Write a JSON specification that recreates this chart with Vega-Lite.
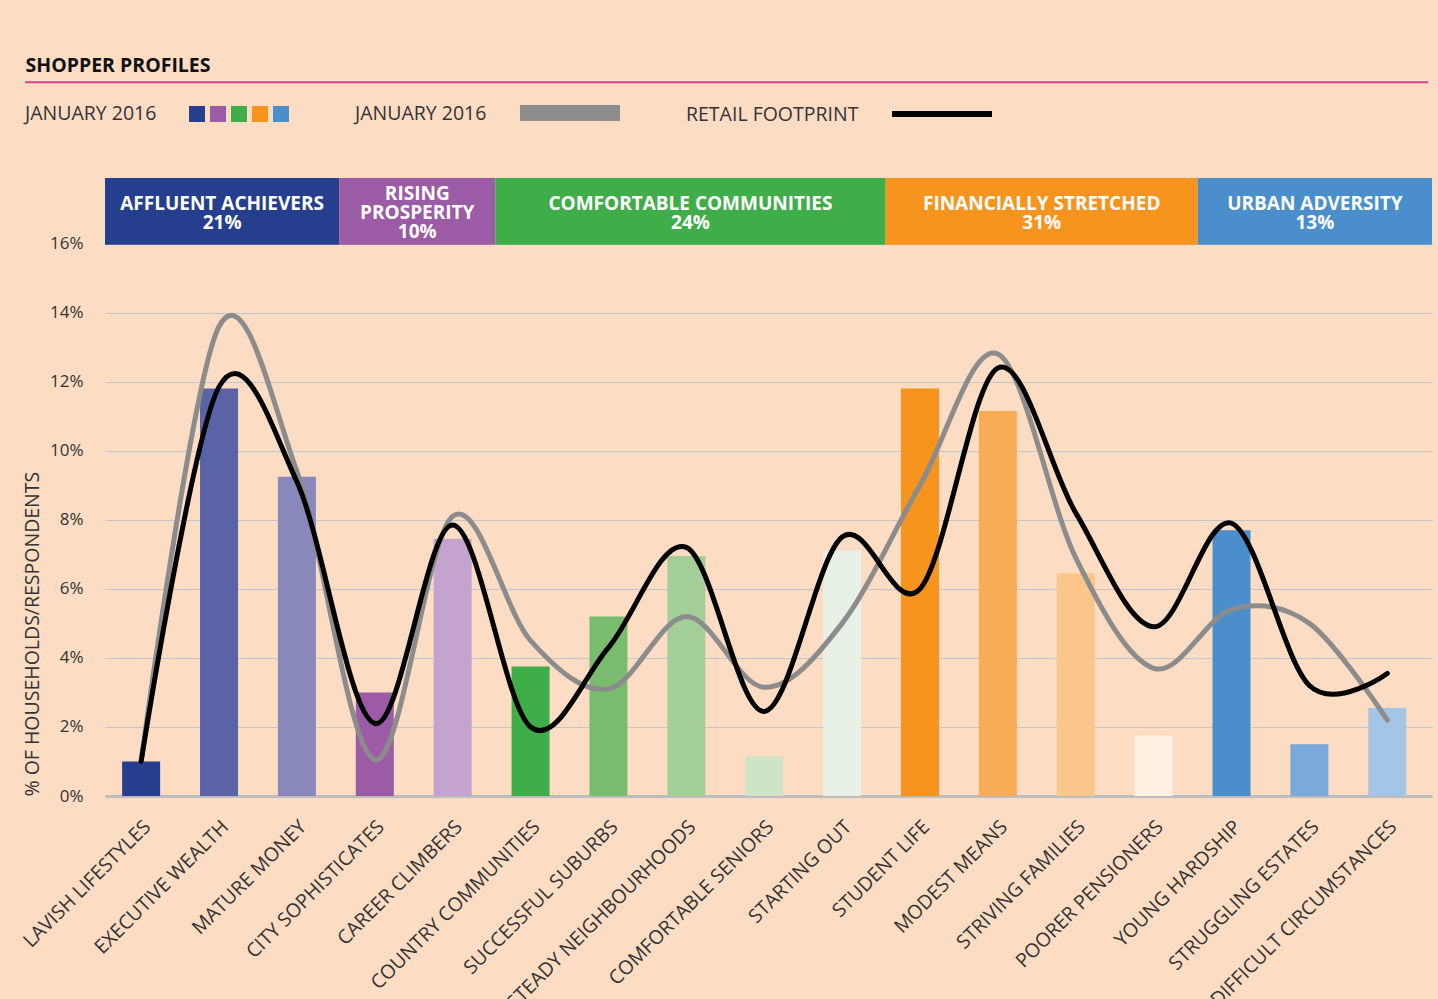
{
  "$schema": "https://vega.github.io/schema/vega-lite/v6.json",
  "width": 1327,
  "height": 618,
  "autosize": {"type": "none"},
  "padding": {"left": 105, "top": 178, "right": 6, "bottom": 203},
  "background": "#FDDCC4",
  "config": {
    "font": "Open Sans",
    "view": {"stroke": null},
    "axis": {"labelFont": "Open Sans", "labelColor": "#333333", "labelFontSize": 17, "titleFont": "Open Sans", "titleFontWeight": "normal", "titleColor": "#333333", "titleFontSize": 19.5, "ticks": false},
    "axisY": {"grid": true, "gridColor": "#C2C6CC", "gridWidth": 1, "domain": false, "labelPadding": 22, "titlePadding": 7, "titleAnchor": "start"},
    "legend": {"titleFont": "Open Sans", "titleFontWeight": "normal", "titleFontSize": 19.5, "titleColor": "#333333", "labelFontSize": 1}
  },
  "title": {"text": "SHOPPER PROFILES", "anchor": "start", "frame": "bounds", "fontSize": 19.5, "fontWeight": "bold", "color": "#111111", "font": "Open Sans", "offset": 5, "dx": 6},
  "datasets": {
    "profiles": [
      {"profile": "LAVISH LIFESTYLES", "share": 1.0, "jan2016": 1.0, "retail": 1.0},
      {"profile": "EXECUTIVE WEALTH", "share": 11.8, "jan2016": 13.6, "retail": 11.85},
      {"profile": "MATURE MONEY", "share": 9.25, "jan2016": 9.4, "retail": 9.1},
      {"profile": "CITY SOPHISTICATES", "share": 3.0, "jan2016": 1.05, "retail": 2.1},
      {"profile": "CAREER CLIMBERS", "share": 7.45, "jan2016": 8.1, "retail": 7.85},
      {"profile": "COUNTRY COMMUNITIES", "share": 3.75, "jan2016": 4.5, "retail": 2.0},
      {"profile": "SUCCESSFUL SUBURBS", "share": 5.2, "jan2016": 3.1, "retail": 4.3},
      {"profile": "STEADY NEIGHBOURHOODS", "share": 6.95, "jan2016": 5.2, "retail": 7.2},
      {"profile": "COMFORTABLE SENIORS", "share": 1.15, "jan2016": 3.15, "retail": 2.45},
      {"profile": "STARTING OUT", "share": 7.1, "jan2016": 5.0, "retail": 7.5},
      {"profile": "STUDENT LIFE", "share": 11.8, "jan2016": 9.0, "retail": 6.0},
      {"profile": "MODEST MEANS", "share": 11.15, "jan2016": 12.8, "retail": 12.4},
      {"profile": "STRIVING FAMILIES", "share": 6.45, "jan2016": 6.9, "retail": 8.2},
      {"profile": "POORER PENSIONERS", "share": 1.75, "jan2016": 3.7, "retail": 4.9},
      {"profile": "YOUNG HARDSHIP", "share": 7.7, "jan2016": 5.4, "retail": 7.9},
      {"profile": "STRUGGLING ESTATES", "share": 1.5, "jan2016": 5.0, "retail": 3.2},
      {"profile": "DIFFICULT CIRCUMSTANCES", "share": 2.55, "jan2016": 2.2, "retail": 3.55}
    ],
    "groups": [
      {"group": "AFFLUENT ACHIEVERS", "label": "AFFLUENT ACHIEVERS\n21%", "start": 0, "end": 3},
      {"group": "RISING PROSPERITY", "label": "RISING\nPROSPERITY\n10%", "start": 3, "end": 5},
      {"group": "COMFORTABLE COMMUNITIES", "label": "COMFORTABLE COMMUNITIES\n24%", "start": 5, "end": 10},
      {"group": "FINANCIALLY STRETCHED", "label": "FINANCIALLY STRETCHED\n31%", "start": 10, "end": 14},
      {"group": "URBAN ADVERSITY", "label": "URBAN ADVERSITY\n13%", "start": 14, "end": 17}
    ]
  },
  "layer": [
    {
      "data": {"name": "profiles"},
      "mark": {"type": "bar"},
      "encoding": {
        "x": {"field": "profile", "type": "nominal", "sort": null,
          "scale": {"type": "band", "paddingInner": 0.512, "paddingOuter": 0.275, "align": 0.4},
          "axis": {"title": null, "labelAngle": -45, "labelFontSize": 19.5, "labelPadding": 21, "labelLimit": 400, "domain": true, "domainColor": "#BDBDBD", "domainWidth": 3, "grid": false}},
        "y": {"field": "share", "type": "quantitative", "scale": {"domain": [0, 17.9], "nice": false},
          "axis": {"values": [0, 2, 4, 6, 8, 10, 12, 14, 16], "labelExpr": "datum.value + '%'", "title": "% OF HOUSEHOLDS/RESPONDENTS"}},
        "color": {"field": "profile", "type": "nominal", "sort": null,
          "scale": {"domain": ["LAVISH LIFESTYLES", "EXECUTIVE WEALTH", "MATURE MONEY", "CITY SOPHISTICATES", "CAREER CLIMBERS", "COUNTRY COMMUNITIES", "SUCCESSFUL SUBURBS", "STEADY NEIGHBOURHOODS", "COMFORTABLE SENIORS", "STARTING OUT", "STUDENT LIFE", "MODEST MEANS", "STRIVING FAMILIES", "POORER PENSIONERS", "YOUNG HARDSHIP", "STRUGGLING ESTATES", "DIFFICULT CIRCUMSTANCES"],
            "range": ["#253F8E", "#5A63A5", "#8888BB", "#9B5BA5", "#C5A3CF", "#3FAE49", "#79BC6E", "#A3CE98", "#CFE3C6", "#E8F1E5", "#F7941D", "#F9AC56", "#FBC68A", "#FFF0E2", "#4A8FCC", "#7AAAD9", "#A3C5E6"]},
          "legend": null}
      }
    },
    {
      "data": {"name": "groups"},
      "mark": {"type": "rect"},
      "encoding": {
        "x": {"field": "start", "type": "quantitative", "scale": {"domain": [0, 17], "nice": false, "zero": false}, "axis": null},
        "x2": {"field": "end"},
        "y": {"datum": 15.97, "type": "quantitative"},
        "y2": {"datum": 17.9},
        "color": {
          "field": "group", "type": "nominal", "sort": null,
          "scale": {"domain": ["AFFLUENT ACHIEVERS", "RISING PROSPERITY", "COMFORTABLE COMMUNITIES", "FINANCIALLY STRETCHED", "URBAN ADVERSITY"], "range": ["#253F8E", "#9B5BA5", "#3FAE49", "#F7941D", "#4A8FCC"]},
          "legend": {"title": "JANUARY 2016", "orient": "none", "legendX": -80, "legendY": -72, "direction": "horizontal", "titleOrient": "left", "titlePadding": 32, "titleBaseline": "middle", "labelExpr": "''", "symbolType": "square", "symbolSize": 256, "symbolStrokeWidth": 0, "symbolOpacity": 1, "labelOffset": 0, "columnPadding": 5}
        }
      }
    },
    {
      "data": {"name": "groups"},
      "transform": [{"filter": "datum.group != 'RISING PROSPERITY'"}, {"calculate": "(datum.start + datum.end) / 2", "as": "mid"}],
      "mark": {"type": "text", "color": "#FFFFFF", "fontWeight": "bold", "fontSize": 19, "lineBreak": "\n", "lineHeight": 19, "baseline": "middle", "align": "center"},
      "encoding": {
        "x": {"field": "mid", "type": "quantitative", "scale": {"domain": [0, 17], "nice": false, "zero": false}, "axis": null},
        "y": {"datum": 17.15, "type": "quantitative"},
        "text": {"field": "label"}
      }
    },
    {
      "data": {"name": "groups"},
      "transform": [{"filter": "datum.group == 'RISING PROSPERITY'"}, {"calculate": "(datum.start + datum.end) / 2", "as": "mid"}],
      "mark": {"type": "text", "color": "#FFFFFF", "fontWeight": "bold", "fontSize": 19, "lineBreak": "\n", "lineHeight": 19, "baseline": "middle", "align": "center"},
      "encoding": {
        "x": {"field": "mid", "type": "quantitative", "scale": {"domain": [0, 17], "nice": false, "zero": false}, "axis": null},
        "y": {"datum": 17.44, "type": "quantitative"},
        "text": {"field": "label"}
      }
    },
    {
      "data": {"values": [{"id": 1}]},
      "mark": {"type": "rule", "color": "#D4418C", "strokeWidth": 2},
      "encoding": {
        "x": {"datum": -1.025, "type": "quantitative", "scale": {"domain": [0, 17], "nice": false, "zero": false}, "axis": null},
        "x2": {"datum": 16.95},
        "y": {"datum": 20.67, "type": "quantitative", "scale": {"domain": [0, 17.9], "nice": false}}
      }
    },
    {
      "data": {"name": "profiles"},
      "mark": {"type": "line", "interpolate": "cardinal", "tension": 0, "strokeWidth": 5, "strokeCap": "round"},
      "encoding": {
        "x": {"field": "profile", "type": "nominal", "sort": null,
          "scale": {"type": "band", "paddingInner": 0.512, "paddingOuter": 0.275, "align": 0.4}, "axis": null},
        "y": {"field": "jan2016", "type": "quantitative", "scale": {"domain": [0, 17.9], "nice": false}},
        "stroke": {"datum": "JANUARY 2016", "scale": {"range": ["#8C8C8C"]},
          "legend": {"title": "JANUARY 2016", "orient": "none", "legendX": 250, "legendY": -75, "titleOrient": "left", "titlePadding": 73, "titleBaseline": "bottom", "labelExpr": "''", "symbolType": "M-25,0H25", "symbolSize": 16, "symbolStrokeWidth": 16, "labelOffset": 0}}
      }
    },
    {
      "data": {"name": "profiles"},
      "mark": {"type": "line", "interpolate": "cardinal", "tension": 0, "strokeWidth": 5, "strokeCap": "round"},
      "encoding": {
        "x": {"field": "profile", "type": "nominal", "sort": null,
          "scale": {"type": "band", "paddingInner": 0.512, "paddingOuter": 0.275, "align": 0.4}, "axis": null},
        "y": {"field": "retail", "type": "quantitative", "scale": {"domain": [0, 17.9], "nice": false}},
        "stroke": {"datum": "RETAIL FOOTPRINT", "scale": {"range": ["#000000"]},
          "legend": {"title": "RETAIL FOOTPRINT", "orient": "none", "legendX": 581, "legendY": -75, "titleOrient": "left", "titlePadding": 72, "titleBaseline": "middle", "labelExpr": "''", "symbolType": "M-6.25,0H6.25", "symbolSize": 256, "symbolStrokeWidth": 6, "labelOffset": 0}}
      }
    }
  ],
  "resolve": {
    "scale": {"x": "independent", "color": "independent", "stroke": "independent"},
    "legend": {"color": "independent", "stroke": "independent"}
  }
}
